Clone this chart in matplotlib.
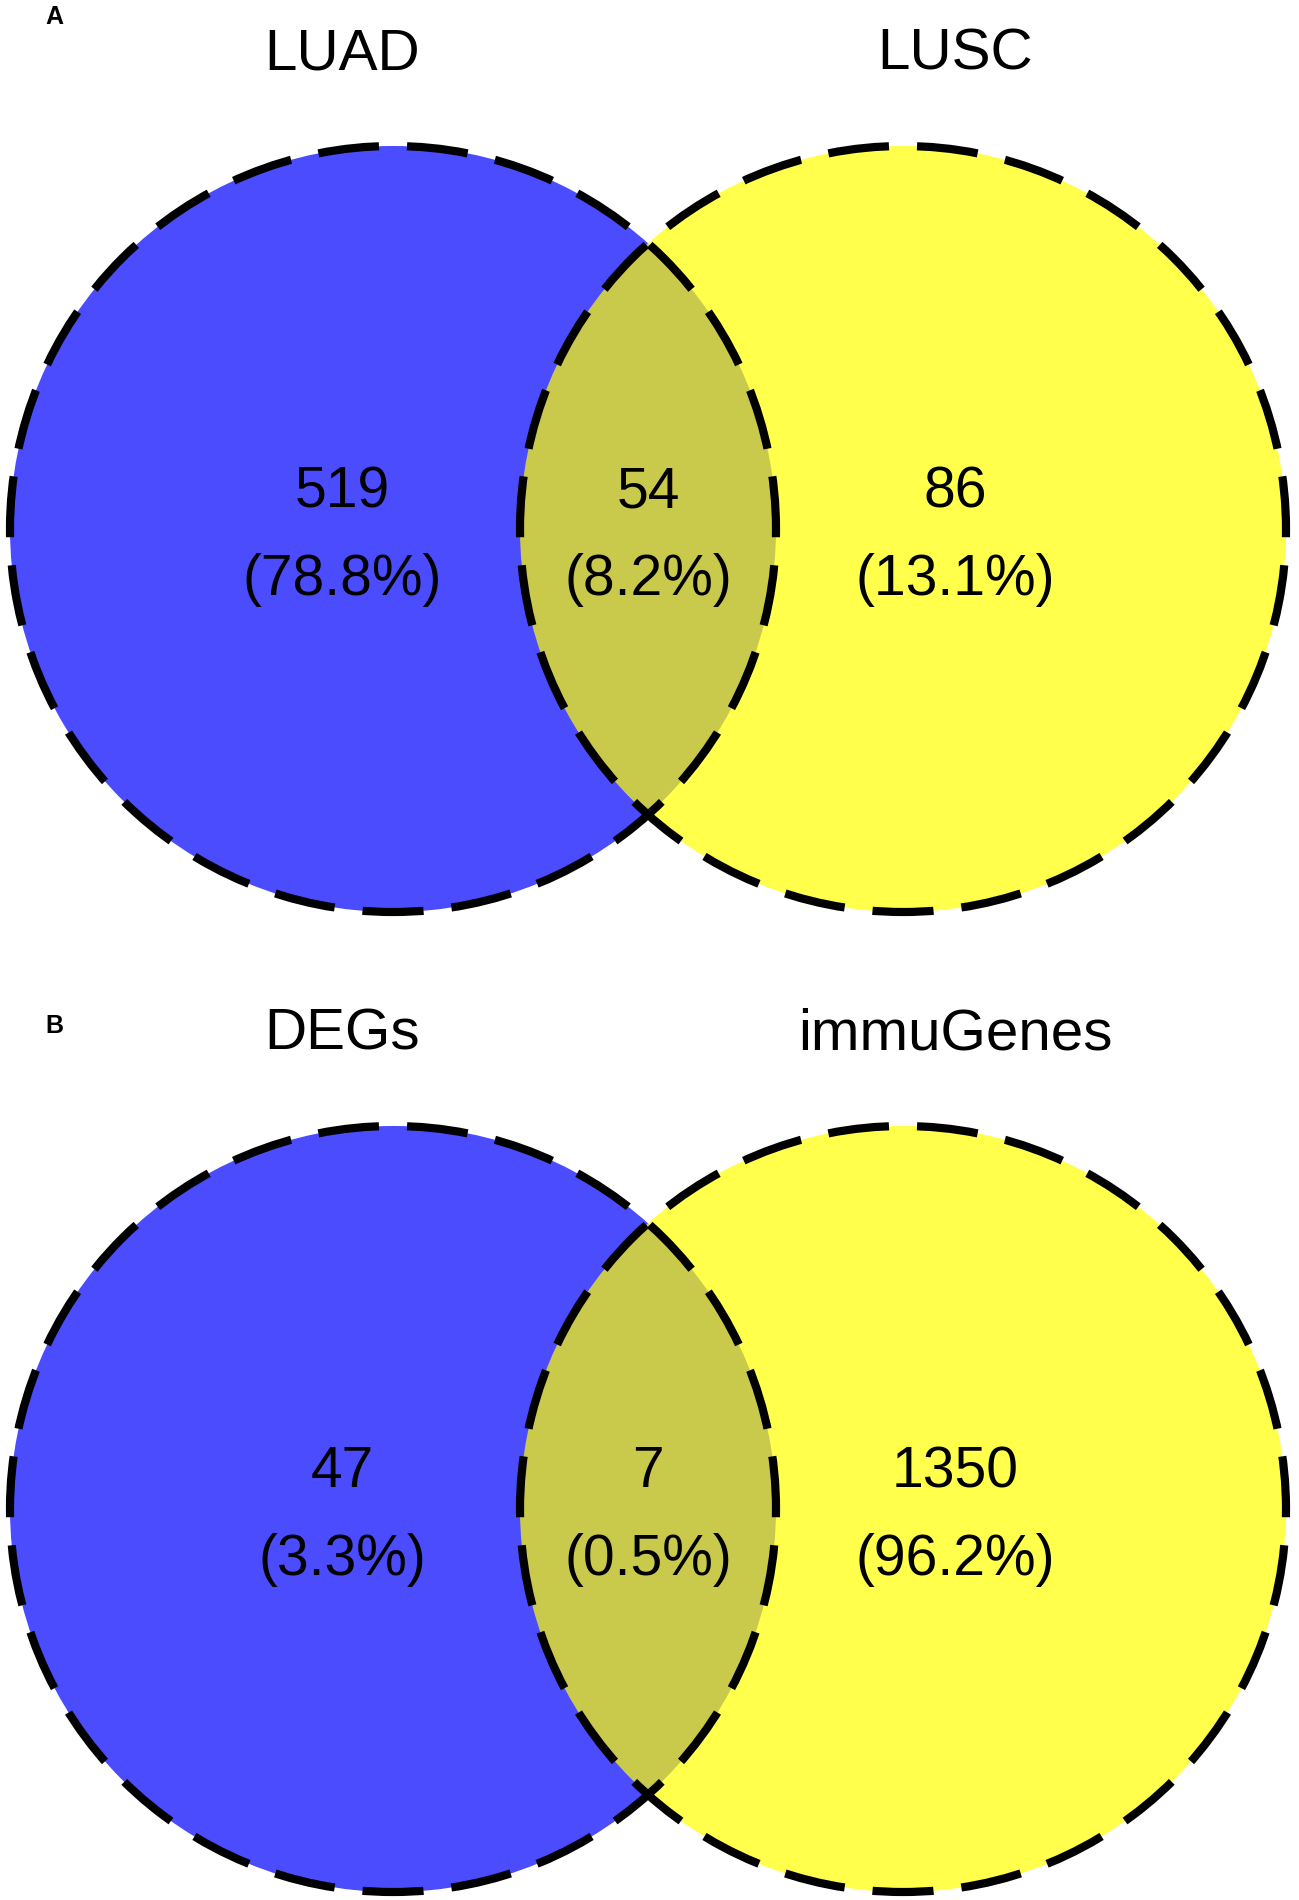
import numpy as np
import matplotlib
matplotlib.use("Agg")
import matplotlib.pyplot as plt
from matplotlib.patches import Circle

# two pairwise venn diagrams
panel_tags = ["A", "B"]
left_names = ["LUAD", "DEGs"]
right_names = ["LUSC", "immuGenes"]
only_left = [519, 47]
overlap = [54, 7]
only_right = [86, 1350]

plt.rcParams["font.family"] = ["Liberation Sans", "DejaVu Sans"]

W, H = 1299, 1900
fig = plt.figure(figsize=(W / 100, H / 100), dpi=100)
ax = fig.add_axes([0, 0, 1, 1])
ax.set_xlim(0, W)
ax.set_ylim(H, 0)
ax.axis("off")

# layout (pixels)
radius = 383
circle_x = [393, 903]
text_x = [342, (circle_x[0] + circle_x[1]) / 2, 955]
panel_shift = [0, 980]
tag_y = [24, 1033]
fills = ["#0000ff", "#ffff00"]
lw = 5.9

# fit a whole number of dashes round the circle so there is no seam
lw_px = lw * 100 / 72
circ = 2 * np.pi * radius
n_dash = round(circ / 88.5)
period = circ / n_dash / lw_px
on = period * 0.685
off = period - on
dash = (on + off / 2, (on, off))  # gap sits on the top of each circle

for i, tag in enumerate(panel_tags):
    dy = panel_shift[i]
    cy = 529 + dy

    for x, c in zip(circle_x, fills):
        ax.add_patch(Circle((x, cy), radius, facecolor=c, edgecolor="none", alpha=0.7))
    for x in circle_x:
        ax.add_patch(Circle((x, cy), radius, fill=False, edgecolor="black",
                            linewidth=lw, linestyle=dash))

    ax.text(45, tag_y[i], tag, fontsize=18, fontweight="bold", ha="left", va="baseline")
    ax.text(text_x[0], 69 + dy, left_names[i], fontsize=42, ha="center", va="baseline")
    ax.text(text_x[2], 69 + dy, right_names[i], fontsize=42, ha="center", va="baseline")

    counts = [only_left[i], overlap[i], only_right[i]]
    total = sum(counts)
    for x, n in zip(text_x, counts):
        ax.text(x, 507 + dy, f"{n}", fontsize=41, ha="center", va="baseline")
        ax.text(x, 595 + dy, f"({n / total * 100:.1f}%)", fontsize=41,
                ha="center", va="baseline")

fig.savefig("out.png", dpi=100)
